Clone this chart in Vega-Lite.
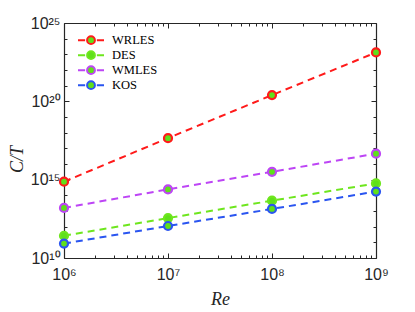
{
  "$schema": "https://vega.github.io/schema/vega-lite/v6.json",
  "autosize": "none",
  "width": 312,
  "height": 235,
  "padding": {"left": 64, "top": 23, "right": 39, "bottom": 54},
  "background": "white",
  "data": {
    "values": [
      {"Re": 1e6, "CT": 7.4e14, "method": "WRLES"},
      {"Re": 1e7, "CT": 4.47e17, "method": "WRLES"},
      {"Re": 1e8, "CT": 2.5e20, "method": "WRLES"},
      {"Re": 1e9, "CT": 1.32e23, "method": "WRLES"},
      {"Re": 1e6, "CT": 2.63e11, "method": "DES"},
      {"Re": 1e7, "CT": 3.55e12, "method": "DES"},
      {"Re": 1e8, "CT": 4.57e13, "method": "DES"},
      {"Re": 1e9, "CT": 5.75e14, "method": "DES"},
      {"Re": 1e6, "CT": 1.58e13, "method": "WMLES"},
      {"Re": 1e7, "CT": 2.4e14, "method": "WMLES"},
      {"Re": 1e8, "CT": 3.16e15, "method": "WMLES"},
      {"Re": 1e9, "CT": 4.57e16, "method": "WMLES"},
      {"Re": 1e6, "CT": 8.3e10, "method": "KOS"},
      {"Re": 1e7, "CT": 1.1e12, "method": "KOS"},
      {"Re": 1e8, "CT": 1.35e13, "method": "KOS"},
      {"Re": 1e9, "CT": 1.74e14, "method": "KOS"}
    ]
  },
  "resolve": {"axis": {"x": "independent", "y": "independent"}},
  "layer": [
    {
      "mark": {"type": "line", "strokeWidth": 2, "strokeDash": [7, 5]},
      "encoding": {
        "x": {
          "field": "Re", "type": "quantitative",
          "scale": {"type": "log", "domain": [1e6, 1e9], "nice": false},
          "axis": {
            "orient": "bottom",
            "title": "Re",
            "titleFont": "Liberation Serif", "titleFontStyle": "italic", "titleFontWeight": "normal", "titleFontSize": 18, "titleColor": "#262626",
            "titleY": 46, "titleBaseline": "alphabetic",
            "values": [1e6, 2e6, 3e6, 4e6, 5e6, 6e6, 7e6, 8e6, 9e6, 1e7, 2e7, 3e7, 4e7, 5e7, 6e7, 7e7, 8e7, 9e7, 1e8, 2e8, 3e8, 4e8, 5e8, 6e8, 7e8, 8e8, 9e8, 1e9],
            "labelExpr": "datum.value == 1e6 ? '10⁶' : datum.value == 1e7 ? '10⁷' : datum.value == 1e8 ? '10⁸' : datum.value == 1e9 ? '10⁹' : ''",
            "labelFont": "Liberation Sans", "labelFontSize": 16, "labelColor": "#262626",
            "labelPadding": 13, "labelFlush": false, "labelOverlap": false,
            "tickSize": {"condition": {"test": "datum.value == 1e6 || datum.value == 1e7 || datum.value == 1e8 || datum.value == 1e9", "value": -5}, "value": -3},
            "tickColor": "#262626", "domainColor": "#262626", "domainWidth": 1.2, "grid": false
          }
        },
        "y": {
          "field": "CT", "type": "quantitative",
          "scale": {"type": "log", "domain": [1e10, 1e25], "nice": false},
          "axis": {
            "orient": "left",
            "title": "C/T",
            "titleFont": "Liberation Serif", "titleFontStyle": "italic", "titleFontWeight": "normal", "titleFontSize": 18, "titleColor": "#262626",
            "titleAngle": -90, "titleX": -42, "titleY": 136, "titleBaseline": "alphabetic", "titleAlign": "center",
            "values": [1e10, 1e11, 1e12, 1e13, 1e14, 1e15, 1e16, 1e17, 1e18, 1e19, 1e20, 1e21, 1e22, 1e23, 1e24, 1e25],
            "labelExpr": "datum.value == 1e10 ? '10¹⁰' : datum.value == 1e15 ? '10¹⁵' : datum.value == 1e20 ? '10²⁰' : datum.value == 1e25 ? '10²⁵' : ''",
            "labelFont": "Liberation Sans", "labelFontSize": 16, "labelColor": "#262626",
            "labelPadding": 9, "labelFlush": false, "labelOverlap": false,
            "tickSize": {"condition": {"test": "datum.value == 1e10 || datum.value == 1e15 || datum.value == 1e20 || datum.value == 1e25", "value": -5}, "value": -3},
            "tickColor": "#262626", "domainColor": "#262626", "domainWidth": 1.2, "grid": false
          }
        },
        "stroke": {
          "field": "method", "type": "nominal",
          "scale": {"domain": ["WRLES", "DES", "WMLES", "KOS"], "range": ["#ff1a1a", "#6ee61e", "#bd45f5", "#2a55f0"]},
          "legend": {
            "title": null,
            "orient": "none", "legendX": 13, "legendY": 10,
            "symbolType": "M-1,0H-0.45M0.45,0H1M-0.3,0A0.3,0.3,0,1,1,0.3,0A0.3,0.3,0,1,1,-0.3,0Z",
            "symbolSize": 676, "symbolStrokeWidth": 2, "symbolFillColor": "#5fe01a", "symbolOpacity": 1,
            "clipHeight": 14.3, "rowPadding": 0, "padding": 0, "labelOffset": 7,
            "labelFont": "Liberation Serif", "labelFontSize": 12.5, "labelColor": "black"
          }
        }
      }
    },
    {
      "mark": {"type": "point", "filled": false, "fill": "#5fe01a", "fillOpacity": 1, "strokeWidth": 2.2, "size": 64, "opacity": 1},
      "encoding": {
        "x": {
          "field": "Re", "type": "quantitative",
          "axis": {
            "orient": "top", "title": null, "labels": false,
            "values": [1e6, 2e6, 3e6, 4e6, 5e6, 6e6, 7e6, 8e6, 9e6, 1e7, 2e7, 3e7, 4e7, 5e7, 6e7, 7e7, 8e7, 9e7, 1e8, 2e8, 3e8, 4e8, 5e8, 6e8, 7e8, 8e8, 9e8, 1e9],
            "tickSize": {"condition": {"test": "datum.value == 1e6 || datum.value == 1e7 || datum.value == 1e8 || datum.value == 1e9", "value": -5}, "value": -3},
            "tickColor": "#262626", "domainColor": "#262626", "domainWidth": 1.2, "grid": false
          }
        },
        "y": {
          "field": "CT", "type": "quantitative",
          "axis": {
            "orient": "right", "title": null, "labels": false,
            "values": [1e10, 1e11, 1e12, 1e13, 1e14, 1e15, 1e16, 1e17, 1e18, 1e19, 1e20, 1e21, 1e22, 1e23, 1e24, 1e25],
            "tickSize": {"condition": {"test": "datum.value == 1e10 || datum.value == 1e15 || datum.value == 1e20 || datum.value == 1e25", "value": -5}, "value": -3},
            "tickColor": "#262626", "domainColor": "#262626", "domainWidth": 1.2, "grid": false
          }
        },
        "stroke": {"field": "method", "type": "nominal"}
      }
    }
  ],
  "config": {"view": {"stroke": null}}
}
